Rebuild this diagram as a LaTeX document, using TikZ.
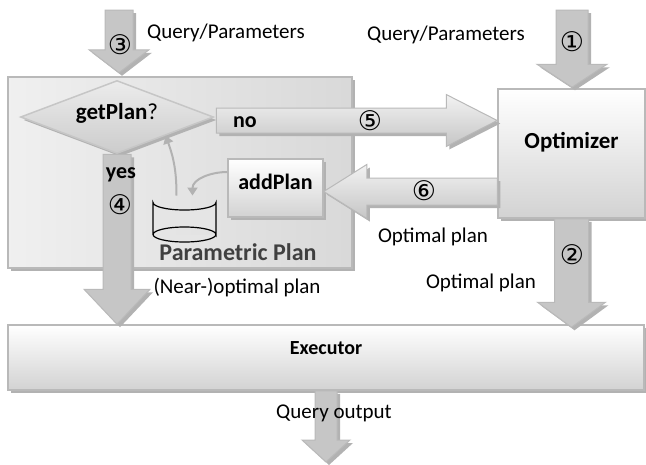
\documentclass[tikz,border=0pt]{standalone}
\usepackage{fontspec}
\setmainfont{Carlito}
\newfontfamily\circfont{DejaVu Sans}
\usetikzlibrary{shapes.geometric,arrows.meta,calc}

\newcommand{\circnum}[1]{{\circfont\fontsize{27}{27}\selectfont #1}}

% fat block arrows: shaft half width, head half width, head length, start, tip
\newcommand{\fatdown}[5]{%
  \path[FatArrow, left color=gray!45, middle color=gray!5, right color=gray!45]
    let \p1=#4, \p2=#5 in
    (\x1-#1pt,\y1) -- (\x1+#1pt,\y1) -- (\x1+#1pt,\y2+#3pt) -- (\x1+#2pt,\y2+#3pt)
    -- (\x1,\y2) -- (\x1-#2pt,\y2+#3pt) -- (\x1-#1pt,\y2+#3pt) -- cycle;}
\newcommand{\fatright}[5]{%
  \path[FatArrow, top color=gray!10, bottom color=gray!45]
    let \p1=#4, \p2=#5 in
    (\x1,\y1+#1pt) -- (\x2-#3pt,\y1+#1pt) -- (\x2-#3pt,\y1+#2pt) -- (\x2,\y1)
    -- (\x2-#3pt,\y1-#2pt) -- (\x2-#3pt,\y1-#1pt) -- (\x1,\y1-#1pt) -- cycle;}
\newcommand{\fatleft}[5]{%
  \path[FatArrow, top color=gray!10, bottom color=gray!45]
    let \p1=#4, \p2=#5 in
    (\x1,\y1+#1pt) -- (\x2+#3pt,\y1+#1pt) -- (\x2+#3pt,\y1+#2pt) -- (\x2,\y1)
    -- (\x2+#3pt,\y1-#2pt) -- (\x2+#3pt,\y1-#1pt) -- (\x1,\y1-#1pt) -- cycle;}

\tikzset{
  Shadowed/.style={preaction={fill=gray!60, transform canvas={shift={(3pt,-3pt)}}}},
  FatArrow/.style={draw=gray!55, line width=1pt, Shadowed},
  Block/.style={draw=gray!55, line width=1.5pt, top color=white, bottom color=gray!35,
    Shadowed, font=\fontsize{23}{23}\selectfont\bfseries, align=center},
  Label/.style={font=\fontsize{21}{21}\selectfont, inner sep=0pt},
  BoldLabel/.style={font=\fontsize{22}{22}\selectfont\bfseries, inner sep=0pt},
  Num/.style={inner sep=0pt},
  Cyl/.style={draw=black, line width=1.2pt, fill=gray!20},
  ThinArrow/.style={draw=gray!60, line width=2pt, -{Triangle[length=8pt,width=10pt]}}
}

\begin{document}
\begin{tikzpicture}[x=1pt,y=-1pt]
\useasboundingbox (0,0) rectangle (646,464);

% containers
\node[draw=gray!55, line width=1.5pt, left color=gray!12, right color=gray!30, Shadowed,
  minimum width=344pt, minimum height=191pt, inner sep=0pt] (ppbox) at (180,172.5) {};
\node[Block, minimum width=147pt, minimum height=129pt, text depth=26pt] (optimizer) at (571.5,153.5) {Optimizer};
\node[Block, minimum width=636pt, minimum height=65pt, text depth=18pt,
  font=\fontsize{20}{20}\selectfont\bfseries] (executor) at (326,357.5) {Executor};

% parametric plan parts
\node[diamond, draw=gray!45, line width=1.5pt, top color=gray!15, bottom color=gray!40, Shadowed,
  minimum width=193pt, minimum height=73pt, inner sep=0pt] (getplan) at (117,117) {};
\node[font=\fontsize{23}{23}\selectfont, inner sep=0pt] (getplantext) at (117,113) {\textbf{getPlan}?};
\node[Block, minimum width=95pt, minimum height=58pt, text depth=12pt, font=\fontsize{22}{22}\selectfont\bfseries]
  (addplan) at (275.5,188) {addPlan};
% database
\coordinate (db) at (184.5,218.5);
\coordinate (dbtop) at (184.5,195.5);
\draw[Cyl] ([shift={(-31.5,16)}]db) -- ([shift={(-31.5,-16)}]db)
  arc[start angle=180, end angle=360, x radius=31.5pt, y radius=7.5pt]
  -- ([shift={(31.5,16)}]db)
  arc[start angle=0, end angle=360, x radius=31.5pt, y radius=7.5pt];
\node[BoldLabel, text=black!75, font=\fontsize{24}{24}\selectfont\bfseries] (pplabel) at (238,252) {Parametric Plan};

% inputs
\coordinate (q3) at (119,10);
\coordinate (q1) at (572,10);
\coordinate (out) at (267,462);
\fatdown{14}{30}{23}{(q3)}{($(getplan.north)+(0,-7)$)}
\fatdown{16}{35}{23}{(q1)}{($(optimizer.north)+(0,-1)$)}

% flows
\fatdown{14}{33}{35}{(getplan.south)}{($(executor.north)+(-207,0)$)}
\fatright{12.5}{26}{51}{($(getplan.east)+(2,3.5)$)}{(optimizer.west)}
\fatleft{13.5}{27}{43}{($(optimizer.west)+(0,38)$)}{($(addplan.east)+(0,2)$)}
\fatdown{17}{34}{25}{(optimizer.south)}{($(executor.north)+(245,3)$)}
\fatdown{11}{24}{22}{(executor.south)}{(out)}

\draw[ThinArrow] ([yshift=16pt]addplan.west) to[out=180,in=90] ([xshift=8pt]dbtop);
\draw[ThinArrow] ([xshift=-8pt]dbtop) to[out=90,in=-70] (getplan.south east);

% labels
\node[Label] (qp3) at (226,33) {Query/Parameters};
\node[Label] (qp1) at (446,35) {Query/Parameters};
\node[Num] (n3) at (120,45) {\circnum{③}};
\node[Num] (n1) at (572,42) {\circnum{①}};
\node[Num] (n5) at (370,121) {\circnum{⑤}};
\node[Num] (n6) at (424,191) {\circnum{⑥}};
\node[Num] (n4) at (120,205) {\circnum{④}};
\node[Num] (n2) at (572,255) {\circnum{②}};
\node[BoldLabel] (no) at (245,122) {no};
\node[BoldLabel] (yes) at (121,175) {yes};
\node[Label] (nearopt) at (237,288) {(Near-)optimal plan};
\node[Label] (opt6) at (433,237) {Optimal plan};
\node[Label] (opt2) at (481,283) {Optimal plan};
\node[Label] (qout) at (334,413) {Query output};
\end{tikzpicture}
\end{document}
